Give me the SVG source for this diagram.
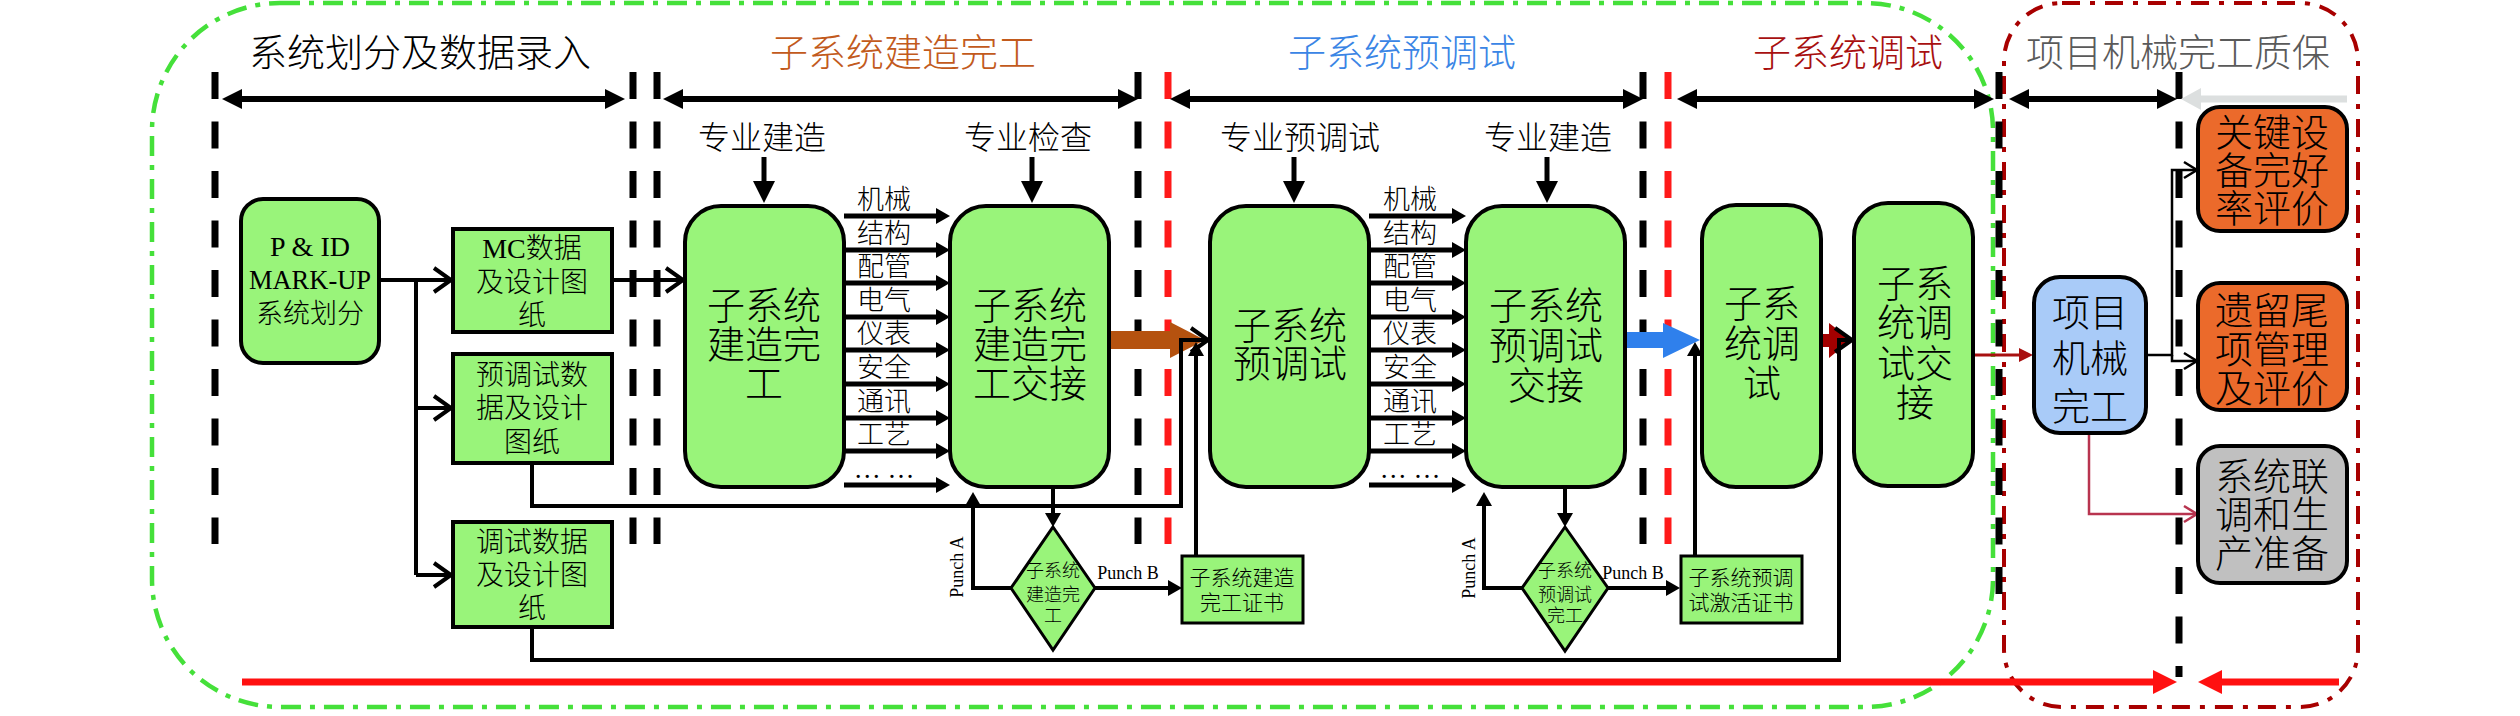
<svg xmlns="http://www.w3.org/2000/svg" width="2520" height="716" viewBox="0 0 2520 716">
<style>
text{font-family:"Liberation Serif","Noto Sans CJK SC",serif;fill:#000;text-anchor:middle;font-weight:300}
.hd{font-size:38px}
.big{font-size:38px}
.mid{font-size:28px}
.lab{font-size:27px}
.sp{font-size:32px}
.cert{font-size:21px}
.dia{font-size:18px}
.pn{font-size:18px}
.vb{stroke:#000;stroke-width:7;stroke-dasharray:27 22.5;fill:none}
.vr{stroke:#ff1a1a;stroke-width:7;stroke-dasharray:27 22.5;fill:none}
.gn{fill:#99f47a;stroke:#000;stroke-width:4}
.gn3{fill:#99f47a;stroke:#000;stroke-width:3}
.c4{stroke:#000;stroke-width:4;fill:none}
.c5{stroke:#000;stroke-width:5;fill:none}
.c6{stroke:#000;stroke-width:6;fill:none}
.c2{stroke:#000;stroke-width:2.5;fill:none}
marker{overflow:visible}
</style>
<defs>
<marker id="mH" markerUnits="userSpaceOnUse" markerWidth="20" markerHeight="20" viewBox="0 0 20 20" refX="12" refY="10" orient="auto-start-reverse"><path d="M0,0L20,10L0,20z" fill="#000"/></marker>
<marker id="mHg" markerUnits="userSpaceOnUse" markerWidth="20" markerHeight="22" viewBox="0 0 20 22" refX="12" refY="11" orient="auto"><path d="M0,0L20,11L0,22z" fill="#dcdfdf"/></marker>
<marker id="mA" markerUnits="userSpaceOnUse" markerWidth="22" markerHeight="22" viewBox="0 0 22 22" refX="16" refY="11" orient="auto"><path d="M0,0L22,11L0,22z" fill="#000"/></marker>
<marker id="mS" markerUnits="userSpaceOnUse" markerWidth="14" markerHeight="16" viewBox="0 0 14 16" refX="9" refY="8" orient="auto"><path d="M0,0L14,8L0,16z" fill="#000"/></marker>
<marker id="mC" markerUnits="userSpaceOnUse" markerWidth="20" markerHeight="26" viewBox="0 0 20 26" refX="18" refY="13" orient="auto"><path d="M1,1L18,13L1,25" fill="none" stroke="#000" stroke-width="4"/></marker>
<marker id="mT" markerUnits="userSpaceOnUse" markerWidth="14" markerHeight="16" viewBox="0 0 14 16" refX="13" refY="8" orient="auto"><path d="M0,0L13,8L0,16" fill="none" stroke="#000" stroke-width="2.5"/></marker>
<marker id="mTc" markerUnits="userSpaceOnUse" markerWidth="14" markerHeight="16" viewBox="0 0 14 16" refX="13" refY="8" orient="auto"><path d="M0,0L13,8L0,16" fill="none" stroke="#b8344f" stroke-width="2.5"/></marker>
<marker id="mR" markerUnits="userSpaceOnUse" markerWidth="24" markerHeight="24" viewBox="0 0 24 24" refX="16" refY="12" orient="auto"><path d="M0,0L24,12L0,24z" fill="#ff1010"/></marker>
<marker id="mD" markerUnits="userSpaceOnUse" markerWidth="14" markerHeight="14" viewBox="0 0 14 14" refX="9" refY="7" orient="auto"><path d="M0,0L14,7L0,14z" fill="#a81010"/></marker>
</defs>

<g id="boundaries">
<rect x="152" y="3" width="1841" height="704" rx="128" ry="128" fill="none" stroke="#45e03a" stroke-width="4.5" stroke-dasharray="20 9 5 9"/>
<rect x="2004" y="3" width="354" height="704" rx="58" ry="58" fill="none" stroke="#a80000" stroke-width="4" stroke-dasharray="18 10 5 10"/>
</g>

<g id="phases">
<line class="vb" x1="215" y1="72" x2="215" y2="544"/>
<line class="vb" x1="633" y1="72" x2="633" y2="544"/>
<line class="vb" x1="657" y1="72" x2="657" y2="544"/>
<line class="vb" x1="1138" y1="72" x2="1138" y2="544"/>
<line class="vr" x1="1168" y1="72" x2="1168" y2="544"/>
<line class="vb" x1="1643" y1="72" x2="1643" y2="544"/>
<line class="vr" x1="1668" y1="72" x2="1668" y2="544"/>
<line class="vb" x1="1999" y1="72" x2="1999" y2="594"/>
<line class="vb" x1="2179" y1="72" x2="2179" y2="677"/>
<line class="c6" x1="230" y1="99" x2="617" y2="99" marker-start="url(#mH)" marker-end="url(#mH)"/>
<line class="c6" x1="671" y1="99" x2="1130" y2="99" marker-start="url(#mH)" marker-end="url(#mH)"/>
<line class="c6" x1="1178" y1="99" x2="1635" y2="99" marker-start="url(#mH)" marker-end="url(#mH)"/>
<line class="c6" x1="1685" y1="99" x2="1986" y2="99" marker-start="url(#mH)" marker-end="url(#mH)"/>
<line class="c6" x1="2017" y1="99" x2="2169" y2="99" marker-start="url(#mH)" marker-end="url(#mH)"/>
<line x1="2347" y1="99" x2="2189" y2="99" stroke="#dcdfdf" stroke-width="7" marker-end="url(#mHg)"/>
<text class="hd" x="420" y="66">系统划分及数据录入</text>
<text class="hd" x="903" y="66" style="fill:#c25a1c">子系统建造完工</text>
<text class="hd" x="1402" y="66" style="fill:#3a85e5">子系统预调试</text>
<text class="hd" x="1848" y="66" style="fill:#a81010">子系统调试</text>
<text class="hd" x="2178" y="66" style="fill:#5a5a5a">项目机械完工质保</text>
<text class="sp" x="762" y="149">专业建造</text>
<text class="sp" x="1028" y="149">专业检查</text>
<text class="sp" x="1300" y="149">专业预调试</text>
<text class="sp" x="1548" y="149">专业建造</text>
</g>

<g id="connectors">
<polygon points="1109,331 1170,331 1170,322 1205,340 1170,358 1170,349 1109,349" fill="#b5520f"/>
<polygon points="1625,332 1663,332 1663,323 1700,340 1663,358 1663,348 1625,348" fill="#2f80ec"/>
<polygon points="1821,334 1829,334 1829,323 1851,340 1829,358 1829,347 1821,347" fill="#a30000"/>
<line x1="242" y1="682" x2="2169" y2="682" stroke="#ff1010" stroke-width="7" marker-end="url(#mR)"/>
<line x1="2339" y1="682" x2="2206" y2="682" stroke="#ff1010" stroke-width="7" marker-end="url(#mR)"/>
<path class="c4" d="M379,280H451" marker-end="url(#mC)"/>
<path class="c4" d="M416,280V575"/>
<path class="c4" d="M416,408H451" marker-end="url(#mC)"/>
<path class="c4" d="M416,575H451" marker-end="url(#mC)"/>
<path class="c4" d="M612,280H683" marker-end="url(#mC)"/>
<path class="c4" d="M532,463V506H1181V340H1208" marker-end="url(#mC)"/>
<path class="c4" d="M532,627V660H1839V340H1852" marker-end="url(#mC)"/>
<path class="c5" d="M764,157V197" marker-end="url(#mA)"/>
<path class="c5" d="M1032,157V197" marker-end="url(#mA)"/>
<path class="c5" d="M1294,157V197" marker-end="url(#mA)"/>
<path class="c5" d="M1547,157V197" marker-end="url(#mA)"/>
<g class="c5">
<path d="M844,216H945" marker-end="url(#mS)"/>
<path d="M844,250H945" marker-end="url(#mS)"/>
<path d="M844,283H945" marker-end="url(#mS)"/>
<path d="M844,317H945" marker-end="url(#mS)"/>
<path d="M844,350H945" marker-end="url(#mS)"/>
<path d="M844,384H945" marker-end="url(#mS)"/>
<path d="M844,418H945" marker-end="url(#mS)"/>
<path d="M844,451H945" marker-end="url(#mS)"/>
<path d="M844,485H945" marker-end="url(#mS)"/>
<path d="M1369,216H1461" marker-end="url(#mS)"/>
<path d="M1369,250H1461" marker-end="url(#mS)"/>
<path d="M1369,283H1461" marker-end="url(#mS)"/>
<path d="M1369,317H1461" marker-end="url(#mS)"/>
<path d="M1369,350H1461" marker-end="url(#mS)"/>
<path d="M1369,384H1461" marker-end="url(#mS)"/>
<path d="M1369,418H1461" marker-end="url(#mS)"/>
<path d="M1369,451H1461" marker-end="url(#mS)"/>
<path d="M1369,485H1461" marker-end="url(#mS)"/>
</g>
<text class="lab" x="884" y="209">机械</text>
<text class="lab" x="884" y="243">结构</text>
<text class="lab" x="884" y="276">配管</text>
<text class="lab" x="884" y="310">电气</text>
<text class="lab" x="884" y="343">仪表</text>
<text class="lab" x="884" y="377">安全</text>
<text class="lab" x="884" y="411">通讯</text>
<text class="lab" x="884" y="444">工艺</text>
<text class="lab" x="884" y="478">… …</text>
<text class="lab" x="1410" y="209">机械</text>
<text class="lab" x="1410" y="243">结构</text>
<text class="lab" x="1410" y="276">配管</text>
<text class="lab" x="1410" y="310">电气</text>
<text class="lab" x="1410" y="343">仪表</text>
<text class="lab" x="1410" y="377">安全</text>
<text class="lab" x="1410" y="411">通讯</text>
<text class="lab" x="1410" y="444">工艺</text>
<text class="lab" x="1410" y="478">… …</text>
<path class="c4" d="M1053,487V522" marker-end="url(#mS)"/>
<path class="c4" d="M1011,588H973V497" marker-end="url(#mS)"/>
<path class="c4" d="M1095,588H1177" marker-end="url(#mS)"/>
<path class="c4" d="M1196,556V347" marker-end="url(#mS)"/>
<path class="c4" d="M1565,487V522" marker-end="url(#mS)"/>
<path class="c4" d="M1522,588H1484V497" marker-end="url(#mS)"/>
<path class="c4" d="M1608,588H1675" marker-end="url(#mS)"/>
<path class="c4" d="M1695,556V347" marker-end="url(#mS)"/>
<text class="pn" transform="translate(963,567) rotate(-90)" x="0" y="0">Punch A</text>
<text class="pn" transform="translate(1475,568) rotate(-90)" x="0" y="0">Punch A</text>
<text class="pn" x="1128" y="579">Punch B</text>
<text class="pn" x="1633" y="579">Punch B</text>
<line x1="1975" y1="355" x2="2028" y2="355" stroke="#a81010" stroke-width="3" marker-end="url(#mD)"/>
<path class="c2" d="M2146,355H2172V170H2197" marker-end="url(#mT)"/>
<path class="c2" d="M2172,355V361H2197" marker-end="url(#mT)"/>
<path d="M2089,433V514H2197" fill="none" stroke="#b8344f" stroke-width="2.5" marker-end="url(#mTc)"/>
</g>

<g id="node-pid">
<rect class="gn" x="241" y="199" width="138" height="164" rx="22"/>
<text class="mid" x="310" y="256">P &amp; ID</text>
<text x="310" y="289" style="font-size:26.5px">MARK-UP</text>
<text class="lab" x="310" y="323">系统划分</text>
</g>
<g id="node-mc">
<rect class="gn" x="453" y="229" width="159" height="103"/>
<text class="mid" x="532" y="258">MC数据</text>
<text class="mid" x="532" y="292">及设计图</text>
<text class="mid" x="532" y="325">纸</text>
</g>
<g id="node-precomm-data">
<rect class="gn" x="453" y="354" width="159" height="109"/>
<text class="mid" x="532" y="385">预调试数</text>
<text class="mid" x="532" y="418">据及设计</text>
<text class="mid" x="532" y="452">图纸</text>
</g>
<g id="node-comm-data">
<rect class="gn" x="453" y="522" width="159" height="105"/>
<text class="mid" x="532" y="552">调试数据</text>
<text class="mid" x="532" y="585">及设计图</text>
<text class="mid" x="532" y="618">纸</text>
</g>
<g id="node-build">
<rect class="gn" x="685" y="206" width="159" height="281" rx="36"/>
<text class="big" x="764" y="319">子系统</text>
<text class="big" x="764" y="358">建造完</text>
<text class="big" x="764" y="397">工</text>
</g>
<g id="node-build-handover">
<rect class="gn" x="950" y="206" width="159" height="281" rx="36"/>
<text class="big" x="1030" y="319">子系统</text>
<text class="big" x="1030" y="358">建造完</text>
<text class="big" x="1030" y="397">工交接</text>
</g>
<g id="node-precomm">
<rect class="gn" x="1210" y="206" width="159" height="281" rx="36"/>
<text class="big" x="1290" y="339">子系统</text>
<text class="big" x="1290" y="377">预调试</text>
</g>
<g id="node-precomm-handover">
<rect class="gn" x="1466" y="206" width="159" height="281" rx="36"/>
<text class="big" x="1546" y="319">子系统</text>
<text class="big" x="1546" y="359">预调试</text>
<text class="big" x="1546" y="399">交接</text>
</g>
<g id="node-comm">
<rect class="gn" x="1702" y="205" width="119" height="282" rx="34"/>
<text class="big" x="1762" y="317">子系</text>
<text class="big" x="1762" y="357">统调</text>
<text class="big" x="1762" y="397">试</text>
</g>
<g id="node-comm-handover">
<rect class="gn" x="1854" y="203" width="119" height="283" rx="34"/>
<text class="big" x="1915" y="297">子系</text>
<text class="big" x="1915" y="336">统调</text>
<text class="big" x="1915" y="377">试交</text>
<text class="big" x="1915" y="416">接</text>
</g>
<g id="node-dia1">
<polygon class="gn3" points="1053,527 1095,588 1053,650 1011,588"/>
<text class="dia" x="1053" y="577">子系统</text>
<text class="dia" x="1053" y="601">建造完</text>
<text class="dia" x="1053" y="622">工</text>
</g>
<g id="node-dia2">
<polygon class="gn3" points="1565,527 1608,588 1565,651 1522,588"/>
<text class="dia" x="1565" y="577">子系统</text>
<text class="dia" x="1565" y="601">预调试</text>
<text class="dia" x="1565" y="622">完工</text>
</g>
<g id="node-cert1">
<rect class="gn3" x="1182" y="556" width="121" height="67"/>
<text class="cert" x="1242" y="585">子系统建造</text>
<text class="cert" x="1242" y="610">完工证书</text>
</g>
<g id="node-cert2">
<rect class="gn3" x="1681" y="556" width="121" height="67"/>
<text class="cert" x="1741" y="585">子系统预调</text>
<text class="cert" x="1741" y="610">试激活证书</text>
</g>
<g id="node-mech">
<rect x="2034" y="277" width="112" height="156" rx="26" fill="#a9cbf8" stroke="#000" stroke-width="4"/>
<text class="big" x="2090" y="326">项目</text>
<text class="big" x="2090" y="372">机械</text>
<text class="big" x="2090" y="420">完工</text>
</g>
<g id="node-key-equip">
<rect x="2198" y="107" width="149" height="124" rx="22" fill="#eb6a2b" stroke="#000" stroke-width="4"/>
<text class="big" x="2272" y="146">关键设</text>
<text class="big" x="2272" y="184">备完好</text>
<text class="big" x="2272" y="222">率评价</text>
</g>
<g id="node-punch-tail">
<rect x="2198" y="283" width="149" height="127" rx="22" fill="#eb6a2b" stroke="#000" stroke-width="4"/>
<text class="big" x="2272" y="324">遗留尾</text>
<text class="big" x="2272" y="363">项管理</text>
<text class="big" x="2272" y="402">及评价</text>
</g>
<g id="node-joint">
<rect x="2198" y="446" width="149" height="137" rx="22" fill="#c0c0c0" stroke="#000" stroke-width="4"/>
<text class="big" x="2272" y="490">系统联</text>
<text class="big" x="2272" y="528">调和生</text>
<text class="big" x="2272" y="567">产准备</text>
</g>
</svg>
